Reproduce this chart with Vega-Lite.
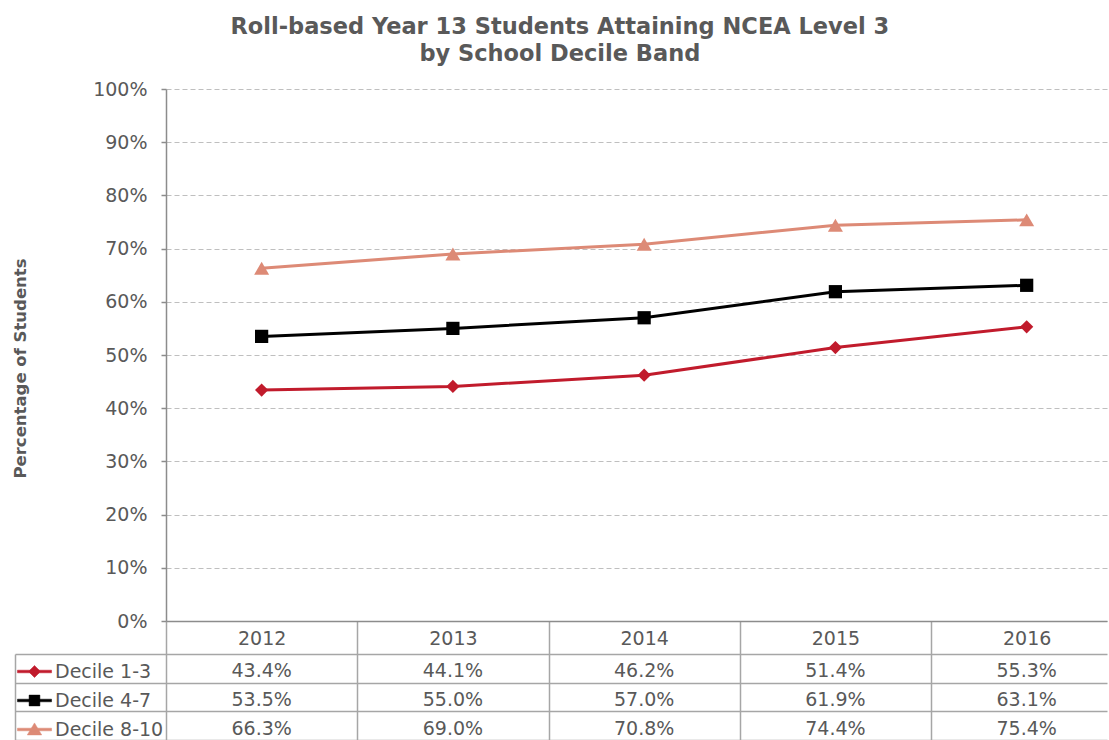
{
  "$schema": "https://vega.github.io/schema/vega-lite/v6.json",
  "background": "white",
  "padding": {"left": 12, "top": 15, "right": 1, "bottom": 0},
  "config": {"view": {"stroke": null}, "font": "DejaVu Sans"},
  "title": {
    "text": ["Roll-based Year 13 Students Attaining NCEA Level 3", "by School Decile Band"],
    "font": "DejaVu Sans",
    "fontSize": 22.5,
    "fontWeight": "bold",
    "color": "#595959",
    "lineHeight": 27,
    "anchor": "middle",
    "frame": "bounds",
    "offset": 15
  },
  "datasets": {
    "ncea": [
      {"series": "Decile 1-3", "year": 2012, "pct": 0.434},
      {"series": "Decile 1-3", "year": 2013, "pct": 0.441},
      {"series": "Decile 1-3", "year": 2014, "pct": 0.462},
      {"series": "Decile 1-3", "year": 2015, "pct": 0.514},
      {"series": "Decile 1-3", "year": 2016, "pct": 0.553},
      {"series": "Decile 4-7", "year": 2012, "pct": 0.535},
      {"series": "Decile 4-7", "year": 2013, "pct": 0.550},
      {"series": "Decile 4-7", "year": 2014, "pct": 0.570},
      {"series": "Decile 4-7", "year": 2015, "pct": 0.619},
      {"series": "Decile 4-7", "year": 2016, "pct": 0.631},
      {"series": "Decile 8-10", "year": 2012, "pct": 0.663},
      {"series": "Decile 8-10", "year": 2013, "pct": 0.690},
      {"series": "Decile 8-10", "year": 2014, "pct": 0.708},
      {"series": "Decile 8-10", "year": 2015, "pct": 0.744},
      {"series": "Decile 8-10", "year": 2016, "pct": 0.754}
    ]
  },
  "bounds": "flush",
  "spacing": 33,
  "vconcat": [
    {
      "width": 941,
      "height": 532,
      "data": {"name": "ncea"},
      "encoding": {
        "x": {
          "field": "year",
          "type": "quantitative",
          "scale": {"domain": [2011.5, 2016.42], "nice": false, "zero": false},
          "axis": {
            "title": null,
            "values": [2012, 2013, 2014, 2015, 2016],
            "format": "d",
            "grid": false,
            "domain": true,
            "domainColor": "#8c8c8c",
            "domainWidth": 1.5,
            "ticks": true,
            "tickSize": 33,
            "tickOffset": -95.63,
            "tickColor": "#a6a6a6",
            "tickWidth": 1.5,
            "labelOffset": 95.63,
            "labelBaseline": "middle",
            "labelPadding": -16,
            "labelFlush": false,
            "labelOverlap": false,
            "labelFont": "DejaVu Sans",
            "labelFontSize": 19,
            "labelColor": "#595959"
          }
        },
        "y": {
          "field": "pct",
          "type": "quantitative",
          "scale": {"domain": [0, 1], "nice": false},
          "axis": {
            "title": "Percentage of Students",
            "titleFont": "DejaVu Sans",
            "titleFontSize": 16.5,
            "titleFontWeight": "bold",
            "titleColor": "#595959",
            "titleX": -141,
            "titleY": 279,
            "titleBaseline": "alphabetic",
            "titleAngle": -90,
            "values": [0, 0.1, 0.2, 0.3, 0.4, 0.5, 0.6, 0.7, 0.8, 0.9, 1],
            "format": ".0%",
            "labelFont": "DejaVu Sans",
            "labelFontSize": 19,
            "labelColor": "#595959",
            "labelPadding": 14,
            "tickSize": 5,
            "tickColor": "#8c8c8c",
            "tickWidth": 1.5,
            "domainColor": "#8c8c8c",
            "domainWidth": 1.5,
            "grid": true,
            "gridColor": "#bfbfbf",
            "gridDash": [5, 3],
            "gridWidth": 1
          }
        },
        "color": {
          "field": "series",
          "type": "nominal",
          "scale": {
            "domain": ["Decile 1-3", "Decile 4-7", "Decile 8-10"],
            "range": ["#c11b2c", "#000000", "#dd8a76"]
          },
          "legend": {
            "orient": "none",
            "legendX": -144,
            "legendY": 570,
            "direction": "vertical",
            "title": null,
            "padding": 0,
            "offset": 0,
            "symbolSize": 576,
            "rowPadding": 6,
            "labelOffset": 8,
            "labelFont": "DejaVu Sans",
            "labelFontSize": 19,
            "labelColor": "#595959",
            "labelLimit": 0,
            "symbolStrokeWidth": 0.5,
            "symbolOpacity": 1
          }
        }
      },
      "layer": [
        {"mark": {"type": "line", "strokeWidth": 3}},
        {
          "transform": [{"filter": {"field": "series", "equal": "Decile 1-3"}}],
          "mark": {"type": "point", "shape": "diamond", "filled": true, "opacity": 1, "size": 175}
        },
        {
          "transform": [{"filter": {"field": "series", "equal": "Decile 4-7"}}],
          "mark": {"type": "point", "shape": "square", "filled": true, "opacity": 1, "size": 175}
        },
        {
          "transform": [{"filter": {"field": "series", "equal": "Decile 8-10"}}],
          "mark": {"type": "point", "shape": "triangle-up", "filled": true, "opacity": 1, "size": 225}
        },
        {
          "transform": [{"filter": "false"}],
          "mark": {"type": "point", "filled": true, "opacity": 1},
          "encoding": {
            "shape": {
              "field": "series",
              "type": "nominal",
              "scale": {
                "domain": ["Decile 1-3", "Decile 4-7", "Decile 8-10"],
                "range": [
                  "M-1.42,-0.11H1.42V0.11H-1.42ZM0,-0.5L0.5,0L0,0.5L-0.5,0Z",
                  "M-1.42,-0.11H1.42V0.11H-1.42ZM-0.45,-0.45H0.45V0.45H-0.45Z",
                  "M-1.42,-0.11H1.42V0.11H-1.42ZM0,-0.55L0.6,0.45H-0.6Z"
                ]
              },
              "legend": {
                "orient": "none",
                "legendX": -144,
                "legendY": 570,
                "direction": "vertical",
                "title": null,
                "padding": 0,
                "offset": 0,
                "symbolSize": 576,
                "rowPadding": 6,
                "labelOffset": 8,
                "labelFont": "DejaVu Sans",
                "labelFontSize": 19,
                "labelColor": "#595959",
                "labelLimit": 0,
                "symbolStrokeWidth": 0.5,
                "symbolOpacity": 1
              }
            }
          }
        }
      ]
    },
    {
      "width": 941,
      "height": 86,
      "data": {"name": "ncea"},
      "mark": {"type": "text", "font": "DejaVu Sans", "fontSize": 19, "color": "#595959", "dy": 3},
      "encoding": {
        "x": {
          "field": "year",
          "type": "quantitative",
          "scale": {"domain": [2011.5, 2016.42], "nice": false, "zero": false},
          "axis": {
            "title": null,
            "values": [2011.5, 2012.5, 2013.5, 2014.5, 2015.5],
            "grid": true,
            "gridColor": "#a6a6a6",
            "gridWidth": 1.5,
            "labels": false,
            "ticks": false,
            "domain": false
          }
        },
        "y": {
          "field": "series",
          "type": "nominal",
          "scale": {"domain": ["Decile 1-3", "Decile 4-7", "Decile 8-10"], "paddingInner": 0, "paddingOuter": 0},
          "axis": {
            "title": null,
            "orient": "left",
            "offset": 151,
            "tickBand": "extent",
            "ticks": true,
            "tickSize": -1092,
            "tickColor": "#a6a6a6",
            "tickWidth": 1.5,
            "domain": true,
            "domainColor": "#a6a6a6",
            "domainWidth": 1.5,
            "labels": false,
            "grid": false
          }
        },
        "text": {"field": "pct", "type": "quantitative", "format": ".1%"}
      }
    }
  ]
}
